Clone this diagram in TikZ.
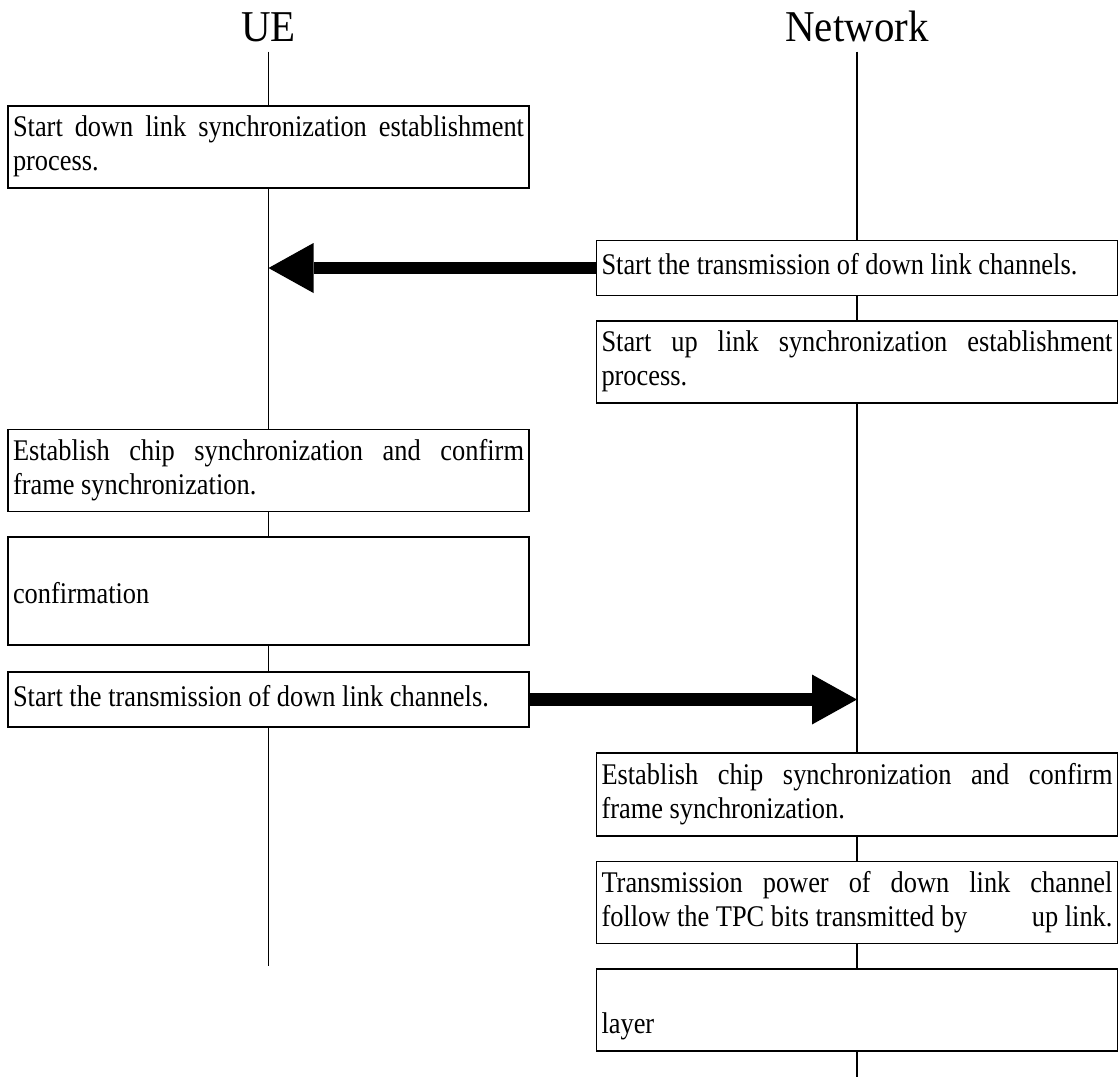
\documentclass[tikz,border=0pt]{standalone}
\usepackage{fontspec}
\setmainfont{Liberation Serif}[FakeStretch=0.88]
\newfontfamily\titlefont{Liberation Serif}[FakeStretch=0.93]
\usetikzlibrary{arrows.meta}
\begin{document}
\begin{tikzpicture}[x=1pt,y=-1pt,
  title/.style={font={\titlefont\fontsize{44}{50}\selectfont}, inner sep=0pt, anchor=base},
  life/.style={line width=1.5pt},
  box/.style={draw, line width=1.6pt, fill=white, rectangle, inner xsep=5pt, inner ysep=0pt,
    text width=511pt, minimum height=82pt, align=justify,
    font={\fontsize{30}{34}\selectfont\hyphenpenalty=10000 },
    execute at begin node=\strut, execute at end node=\strut},
  msg/.style={line width=12.5pt, -{Triangle[length=45pt,width=50pt,line width=0pt]}}
]
\useasboundingbox (0,0) rectangle (1119,1077);

% titles and lifelines
\node[title] (UE) at (268.5,41.5) {UE};
\node[title] (NW) at (857,41.5) {Network};
\coordinate (ueEnd) at (268.5,966);
\coordinate (nwEnd) at (857,1077);
\draw[life] ([yshift=-9.5pt]UE.south) -- (ueEnd);
\draw[life] ([yshift=-9.5pt]NW.south) -- (nwEnd);

% UE side boxes
\node[box] (A) at (268.5,147) {Start down link synchronization establishment\linebreak process.};
\node[box] (D) at (268.5,470.5) {Establish chip synchronization and confirm\linebreak frame synchronization.};
\node[box, minimum height=108pt] (E) at (268.5,591) {\raisebox{-6pt}{confirmation}};
\node[box, minimum height=55pt] (F) at (268.5,699.5) {Start the transmission of down link channels.};

% Network side boxes
\node[box, minimum height=55pt] (B) at (857,268) {Start the transmission of down link channels.};
\node[box] (C) at (857,362) {Start up link synchronization establishment\linebreak process.};
\node[box, minimum height=83pt] (G) at (857,794.5) {Establish chip synchronization and confirm\linebreak frame synchronization.};
\node[box] (H) at (857,902.5) {Transmission power of down link channel\linebreak follow the TPC bits transmitted by\hspace{\fill}up link.};
\node[box] (I) at (857,1010) {\mbox{}\linebreak layer};

% messages
\draw[msg] (B.west) -- (B.west -| UE);
\draw[msg] (F.east) -- (F.east -| NW);
\end{tikzpicture}
\end{document}
